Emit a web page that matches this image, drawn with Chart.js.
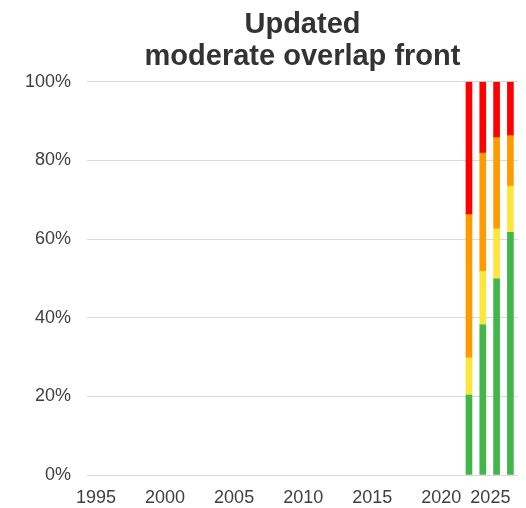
<!DOCTYPE html>
<html>
<head>
<meta charset="utf-8">
<script src="https://cdn.jsdelivr.net/npm/chart.js@4/dist/chart.umd.min.js"></script>
<style>
  html, body { margin: 0; padding: 0; background: #fff; }
  #wrap { width: 526px; height: 508px; }
</style>
</head>
<body>
<div id="wrap"><canvas id="myChart" width="526" height="508"></canvas></div>
<script>
//! DATA
const years = [2022, 2023, 2024, 2025];
const greenShare = [20.3, 38.2, 49.9, 61.7];
const yellowShare = [9.5, 13.6, 12.7, 11.8];
const orangeShare = [36.4, 30.1, 23.2, 12.8];
const redShare = [33.8, 18.1, 14.2, 13.7];
const xTicks = [1995, 2000, 2005, 2010, 2015, 2020, 2025];
const yTicks = [0, 20, 40, 60, 80, 100];

//* helper: pair years with a series
function toPoints(values) {
    return years.map(function (y, i) {
        return { x: y, y: values[i] };
    });
}

function makeSet(label, values, color) {
    return {
        label: label,
        data: toPoints(values),
        backgroundColor: color,
        borderWidth: 0,
        barThickness: 6
    };
}

//! CHART JS CONFIG
const data = {
    datasets: [
        makeSet('green', greenShare, '#41b649'),
        makeSet('yellow', yellowShare, '#fde63c'),
        makeSet('orange', orangeShare, '#ff9a00'),
        makeSet('red', redShare, '#ff0000')
    ]
};

const config = {
    type: 'bar',
    data,
    options: {
        responsive: false,
        animation: false,
        layout: { padding: { left: 0, right: 8, top: 0, bottom: 0 } },
        plugins: {
            legend: { display: false },
            tooltip: { enabled: false },
            title: {
                display: true,
                fullSize: false,
                text: ['Updated', 'moderate overlap front'],
                color: '#333333',
                font: { family: 'Liberation Sans, Arial, sans-serif', size: 29, weight: 'bold', lineHeight: 1.1 },
                padding: { top: 9, bottom: 9 }
            }
        },
        scales: {
            x: {
                type: 'linear',
                stacked: true,
                offset: false,
                min: 1994.35,
                max: 2025.55,
                grid: { display: false },
                border: { display: false },
                afterBuildTicks: function (scale) {
                    //* dummy first tick so 'inner' alignment only shifts the last label
                    scale.ticks = [{ value: scale.min }].concat(xTicks.map(function (v) { return { value: v }; }));
                },
                afterFit: function (scale) { scale.height = 33; },
                ticks: {
                    align: 'inner',
                    autoSkip: false,
                    maxRotation: 0,
                    padding: 4,
                    color: '#404040',
                    font: { family: 'Liberation Sans, Arial, sans-serif', size: 18 },
                    callback: function (v) {
                        return xTicks.indexOf(v) >= 0 ? String(v) : '';
                    }
                }
            },
            y: {
                stacked: true,
                min: 0,
                max: 100,
                afterBuildTicks: function (scale) {
                    scale.ticks = yTicks.map(function (v) { return { value: v }; });
                },
                afterFit: function (scale) { scale.width = 87; },
                grid: { color: '#d9d9d9', lineWidth: 1, drawTicks: false },
                border: { display: false },
                ticks: {
                    padding: 16,
                    color: '#404040',
                    font: { family: 'Liberation Sans, Arial, sans-serif', size: 18 },
                    callback: function (v) { return v + '%'; }
                }
            }
        }
    }
};

//! CREATE CHART
const myChart = new Chart(document.getElementById('myChart'), config);
</script>
</body>
</html>
